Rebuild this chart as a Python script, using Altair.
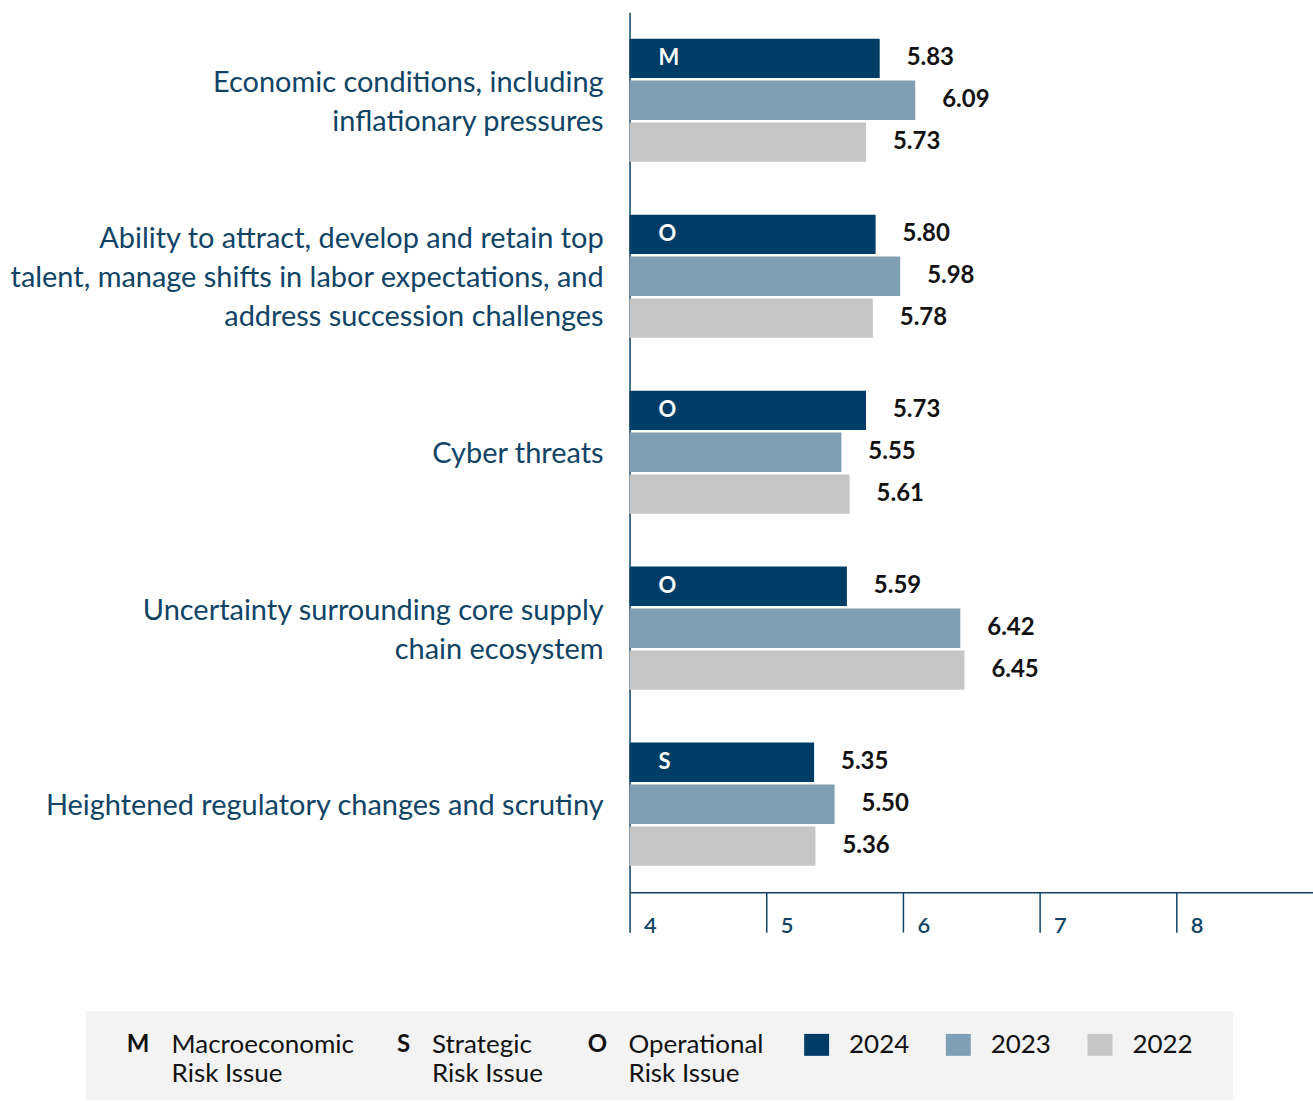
import altair as alt
import pandas as pd

categories = [
    "Economic conditions, including|inflationary pressures",
    "Ability to attract, develop and retain top|talent, manage shifts in labor expectations, and|address succession challenges",
    "Cyber threats",
    "Uncertainty surrounding core supply|chain ecosystem",
    "Heightened regulatory changes and scrutiny",
]
risk_types = ["M", "O", "O", "O", "S"]
years = ["2024", "2023", "2022"]
v2024 = [5.83, 5.80, 5.73, 5.59, 5.35]
v2023 = [6.09, 5.98, 5.55, 6.42, 5.50]
v2022 = [5.73, 5.78, 5.61, 6.45, 5.36]
colors = ["#003d66", "#7f9fb5", "#c6c6c6"]
x_ticks = [4, 5, 6, 7, 8]
legend_letters = ["M", "S", "O"]
legend_labels = ["Macroeconomic\nRisk Issue", "Strategic\nRisk Issue", "Operational\nRisk Issue"]

rows = []
for i, cat in enumerate(categories):
    for yr, vals in zip(years, [v2024, v2023, v2022]):
        rows.append({"category": cat, "year": yr, "value": vals[i],
                     "label": f"{vals[i]:.2f}", "risk": risk_types[i]})
df = pd.DataFrame(rows)

AX = "#0f4466"
FONT = "Lato"
LH = 39

y_enc = alt.Y("category:N", sort=categories,
              scale=alt.Scale(paddingInner=0.3, paddingOuter=0.15),
              axis=alt.Axis(title=None, labels=False, ticks=False,
                            domainColor=AX, domainWidth=1.5))
y_plain = alt.Y("category:N", sort=categories)
yo_enc = alt.YOffset("year:N", sort=years, scale=alt.Scale(paddingInner=0.06, paddingOuter=0))
yo_plain = alt.YOffset("year:N", sort=years)
x_enc = alt.X("value:Q", scale=alt.Scale(domain=[4, 9], nice=False, zero=False),
              axis=alt.Axis(values=x_ticks, format="d", title=None, grid=False, tickSize=40,
                            tickColor=AX, tickWidth=1.5, domainColor=AX, domainWidth=1.5,
                            labelAlign="left", labelOffset=14, labelBaseline="middle",
                            labelPadding=-7, labelFontSize=22, labelColor=AX,
                            labelFont=FONT, labelFlush=False, labelFontWeight=600))
color_enc = alt.Color("year:N", sort=years,
                      scale=alt.Scale(domain=years, range=colors), legend=None)

base = alt.Chart(df)
bars = base.mark_bar().encode(x=x_enc, x2=alt.datum(4), y=y_enc, yOffset=yo_enc, color=color_enc)
vals = base.mark_text(align="left", dx=27, baseline="middle", font=FONT,
                      fontWeight="bold", fontSize=24, color="#111111").encode(
    x="value:Q", y=y_plain, yOffset=yo_plain, text="label:N")
letters = base.transform_filter(alt.datum.year == "2024").mark_text(
    align="left", dx=29, baseline="middle", font=FONT, fontWeight="bold",
    fontSize=22, color="white").encode(
    x=alt.datum(4), y=y_plain, yOffset=yo_plain, text="risk:N")

# category labels (multi-line, block centred on the band)
cat_layers = []
for n in [1, 2, 3]:
    cat_layers.append(
        base.transform_filter(alt.datum.year == "2024")
        .transform_calculate(nlines="length(split(datum.category, '|'))")
        .transform_filter(alt.datum.nlines == n)
        .mark_text(align="right", baseline="middle", dx=-26, dy=2 - (n - 1) * LH / 2,
                   font=FONT, fontSize=29, color=AX, lineBreak="|", lineHeight=LH)
        .encode(x=alt.datum(4), y=y_plain, text="category:N")
    )

one = pd.DataFrame({"a": [0]})
legend_layers = [
    alt.Chart(one).mark_rect(color="#f3f3f3").encode(
        x=alt.value(-545), x2=alt.value(605), y=alt.value(1001), y2=alt.value(1090))
]
letter_x = [-504, -233, -42]
text_x = [-459, -198, -1]
for lx, tx, let, lab in zip(letter_x, text_x, legend_letters, legend_labels):
    legend_layers.append(alt.Chart(one).mark_text(
        align="left", baseline="middle", font=FONT, fontWeight="bold", fontSize=24,
        color="#111111").encode(x=alt.value(lx), y=alt.value(1035), text=alt.value(let)))
    legend_layers.append(alt.Chart(one).mark_text(
        align="left", baseline="middle", font=FONT, fontSize=26, color="#111111",
        lineBreak="\n", lineHeight=29).encode(x=alt.value(tx), y=alt.value(1035), text=alt.value(lab)))
sq_x = [175, 317, 459]
for sx, yr, col in zip(sq_x, years, colors):
    legend_layers.append(alt.Chart(one).mark_rect(color=col).encode(
        x=alt.value(sx), x2=alt.value(sx + 25), y=alt.value(1024), y2=alt.value(1046)))
    legend_layers.append(alt.Chart(one).mark_text(
        align="left", baseline="middle", font=FONT, fontSize=26, color="#111111").encode(
        x=alt.value(sx + 45), y=alt.value(1035), text=alt.value(yr)))

chart = alt.layer(bars, vals, letters, *cat_layers, *legend_layers).properties(
    width=685, height=882,
    autosize=alt.AutoSizeParams(type="none"),
    padding={"left": 631, "top": 11, "right": 0, "bottom": 208},
    background="white",
).configure_view(stroke=None)

chart.save("out.html", embed_options={"renderer": "svg", "actions": False})
